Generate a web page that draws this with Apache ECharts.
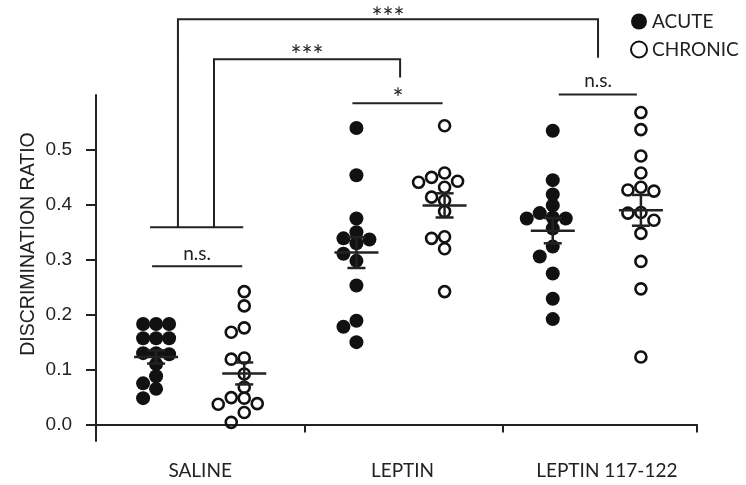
<!DOCTYPE html>
<html>
<head>
<meta charset="utf-8">
<script src="https://cdn.jsdelivr.net/npm/echarts@6/dist/echarts.min.js"></script>
<style>
html, body { margin: 0; padding: 0; background: #fff; }
#chart { width: 746px; height: 485px; }
</style>
</head>
<body>
<div id="chart"></div>
<script>
// data
var groups = ['SALINE', 'LEPTIN', 'LEPTIN 117-122'];
var groupCenter = [0.52, 1.52, 2.5];
var xTicks = [0, 1.04, 2.03, 3];
var xLabelAt = [0.52, 1.53, 2.55];
var acute = [
    [0.183, 0.183, 0.183, 0.157, 0.157, 0.157, 0.130, 0.130, 0.128, 0.110, 0.088, 0.075, 0.065, 0.048],
    [0.540, 0.454, 0.375, 0.350, 0.339, 0.337, 0.330, 0.311, 0.298, 0.253, 0.189, 0.178, 0.150],
    [0.535, 0.445, 0.419, 0.399, 0.385, 0.377, 0.375, 0.375, 0.357, 0.324, 0.306, 0.275, 0.229, 0.192]
];
var chronic = [
    [0.242, 0.216, 0.176, 0.168, 0.121, 0.119, 0.092, 0.068, 0.049, 0.048, 0.038, 0.037, 0.022, 0.004],
    [0.544, 0.458, 0.450, 0.443, 0.441, 0.432, 0.414, 0.408, 0.388, 0.342, 0.339, 0.320, 0.242],
    [0.568, 0.537, 0.489, 0.458, 0.432, 0.427, 0.425, 0.386, 0.385, 0.372, 0.348, 0.297, 0.247, 0.123]
];
var acuteMean = [0.123, 0.313, 0.353];
var acuteSem = [0.012, 0.028, 0.023];
var chronicMean = [0.093, 0.399, 0.390];
var chronicSem = [0.020, 0.022, 0.028];
var yTicks = [0, 0.1, 0.2, 0.3, 0.4, 0.5];

// significance brackets (x in group units, y in ratio units)
var sigText = ['n.s.', '*', 'n.s.', '***', '***', ''];
var sigAt = [[0.505, 0.311], [1.508, 0.591], [2.506, 0.626], [1.053, 0.670], [1.458, 0.740], [0, 0]];
var sigPath = [
    [[0.28, 0.288], [0.73, 0.288]],
    [[1.28, 0.585], [1.73, 0.585]],
    [[2.31, 0.601], [2.70, 0.601]],
    [[0.589, 0.359], [0.589, 0.665], [1.518, 0.665], [1.518, 0.632]],
    [[0.409, 0.359], [0.409, 0.738], [2.506, 0.738], [2.506, 0.668]],
    [[0.27, 0.359], [0.735, 0.359]]
];

var gridL = 96, gridR = 49, gridT = 95, gridB = 44;
var yMin = -0.03, yMax = 0.6;
var pxX = (746 - gridL - gridR) / 3;
var pxY = (485 - gridT - gridB) / (yMax - yMin);
var shift = 0.22;

// simple beeswarm so overlapping dots spread sideways
function swarm(values, center) {
    var placed = [], out = [];
    var step = 13, minD = 10.8;
    values.forEach(function (v) {
        var py = v * pxY;
        for (var n = 0; n < 20; n++) {
            var k = n === 0 ? 0 : (n % 2 ? -Math.ceil(n / 2) : Math.ceil(n / 2));
            var dx = k * step, ok = true;
            for (var j = 0; j < placed.length; j++) {
                var a = dx - placed[j][0], b = py - placed[j][1];
                if (a * a + b * b < minD * minD) { ok = false; break; }
            }
            if (ok) break;
        }
        placed.push([dx, py]);
        out.push([center + dx / pxX, v]);
    });
    return out;
}

var acutePts = [], chronicPts = [], stats = [];
groups.forEach(function (g, i) {
    acutePts = acutePts.concat(swarm(acute[i], groupCenter[i] - shift));
    chronicPts = chronicPts.concat(swarm(chronic[i], groupCenter[i] + shift));
    stats.push([groupCenter[i] - shift, acuteMean[i], acuteSem[i]]);
    stats.push([groupCenter[i] + shift, chronicMean[i], chronicSem[i]]);
});

var ink = '#222';
var myChart = echarts.init(document.getElementById('chart'));
var option = {
    animation: false,
    grid: { left: gridL, right: gridR, top: gridT, bottom: gridB },
    legend: {
        orient: 'vertical',
        left: 625,
        top: 7,
        itemWidth: 16,
        itemHeight: 16,
        itemGap: 9,
        icon: 'circle',
        textStyle: { fontFamily: 'Lato', fontSize: 19, color: ink },
        data: ['ACUTE', 'CHRONIC']
    },
    xAxis: {
        type: 'value',
        min: 0,
        max: 3,
        axisLine: { lineStyle: { color: ink, width: 2 } },
        axisTick: { customValues: xTicks, length: 8, lineStyle: { color: ink, width: 2 } },
        axisLabel: {
            customValues: xLabelAt,
            margin: 20,
            fontFamily: 'Lato',
            fontSize: 19,
            color: ink,
            formatter: function (v) {
                var i = 0;
                xLabelAt.forEach(function (p, j) { if (Math.abs(p - v) < 0.01) i = j; });
                return groups[i];
            }
        },
        splitLine: { show: false }
    },
    yAxis: {
        type: 'value',
        min: yMin,
        max: yMax,
        axisLine: { show: true, lineStyle: { color: ink, width: 2 } },
        axisTick: { show: true, customValues: yTicks, length: 10, lineStyle: { color: ink, width: 2 } },
        axisLabel: {
            customValues: yTicks,
            margin: 24,
            fontFamily: 'Liberation Sans',
            fontSize: 19,
            color: ink,
            formatter: function (v) { return v.toFixed(1); }
        },
        splitLine: { show: false }
    },
    graphic: [{
        type: 'text',
        x: 29,
        y: 244,
        rotation: Math.PI / 2,
        style: {
            text: 'DISCRIMINATION RATIO',
            fill: ink,
            font: '19.5px "Liberation Sans"',
            align: 'center',
            verticalAlign: 'middle'
        }
    }],
    series: [
        {
            name: 'ACUTE',
            type: 'scatter',
            symbol: 'circle',
            symbolSize: 14,
            itemStyle: { color: '#111', opacity: 1 },
            data: acutePts,
            z: 2
        },
        {
            name: 'CHRONIC',
            type: 'scatter',
            symbol: 'circle',
            symbolSize: 11,
            itemStyle: { color: 'rgba(255,255,255,0)', borderColor: '#111', borderWidth: 2.6, opacity: 1 },
            data: chronicPts,
            z: 2
        },
        {
            // mean and SEM
            type: 'custom',
            z: 5,
            silent: true,
            data: stats,
            renderItem: function (params, api) {
                var x = api.value(0), m = api.value(1), s = api.value(2);
                var c = api.coord([x, m]);
                var t = api.coord([x, m + s]);
                var b = api.coord([x, m - s]);
                var st = { stroke: ink, lineWidth: 2.5 };
                return {
                    type: 'group',
                    children: [
                        { type: 'line', shape: { x1: c[0] - 22, y1: c[1], x2: c[0] + 22, y2: c[1] }, style: st },
                        { type: 'line', shape: { x1: c[0], y1: t[1], x2: c[0], y2: b[1] }, style: st },
                        { type: 'line', shape: { x1: c[0] - 9, y1: t[1], x2: c[0] + 9, y2: t[1] }, style: st },
                        { type: 'line', shape: { x1: c[0] - 9, y1: b[1], x2: c[0] + 9, y2: b[1] }, style: st }
                    ]
                };
            }
        },
        {
            // significance brackets
            type: 'custom',
            z: 4,
            silent: true,
            clip: false,
            data: sigAt,
            renderItem: function (params, api) {
                var i = params.dataIndex;
                var pts = sigPath[i].map(function (p) { return api.coord(p); });
                var kids = [{
                    type: 'polyline',
                    shape: { points: pts },
                    style: { stroke: ink, lineWidth: 2, fill: null }
                }];
                if (sigText[i]) {
                    var p = api.coord(sigAt[i]);
                    var stars = sigText[i].charAt(0) === '*';
                    kids.push({
                        type: 'text',
                        x: p[0],
                        y: p[1],
                        style: {
                            text: sigText[i],
                            fill: ink,
                            font: (stars ? '26px' : '19px') + ' Lato',
                            align: 'center',
                            verticalAlign: 'middle'
                        }
                    });
                }
                return { type: 'group', children: kids };
            }
        }
    ]
};
myChart.setOption(option);
</script>
</body>
</html>
